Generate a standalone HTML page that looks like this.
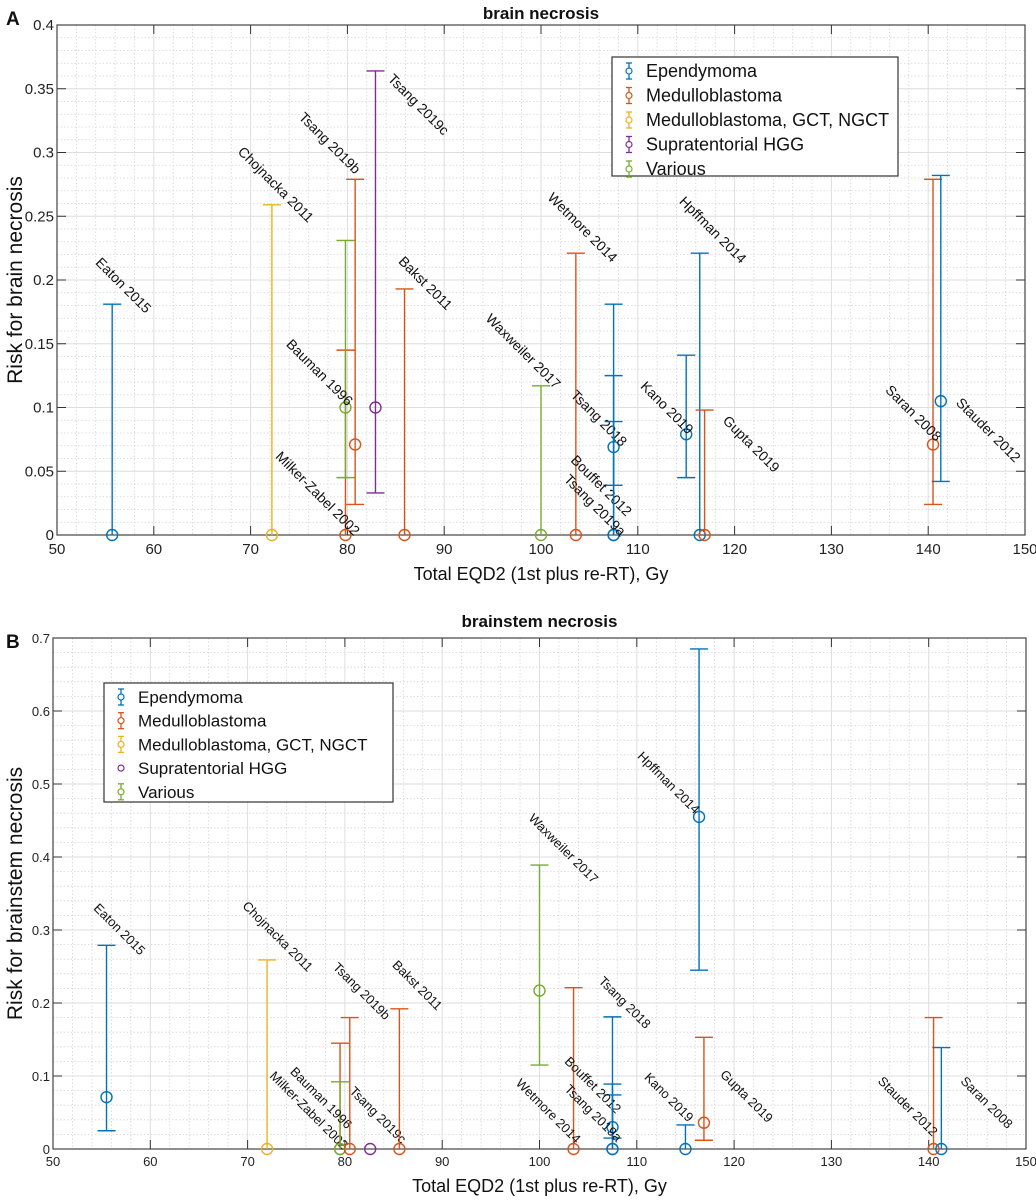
<!DOCTYPE html>
<html><head><meta charset="utf-8"><style>
html,body{margin:0;padding:0;background:#fff;}
svg{display:block;font-family:"Liberation Sans",sans-serif;}
</style></head><body>
<svg id="fig" width="1036" height="1200" viewBox="0 0 1036 1200"></svg>
<script>
const groups = ["Ependymoma","Medulloblastoma","Medulloblastoma, GCT, NGCT","Supratentorial HGG","Various"];
const groupColors = ["#0072BD","#D95319","#EDB120","#7E2F8E","#77AC30"];
const xTicks = [50,60,70,80,90,100,110,120,130,140,150];
const aYTicks = [0,0.05,0.1,0.15,0.2,0.25,0.3,0.35,0.4];
const aYTickLabels = ["0","0.05","0.1","0.15","0.2","0.25","0.3","0.35","0.4"];
const bYTicks = [0,0.1,0.2,0.3,0.4,0.5,0.6,0.7];
const bYTickLabels = ["0","0.1","0.2","0.3","0.4","0.5","0.6","0.7"];

// Panel A: brain necrosis
const aNames = ["Eaton 2015","Chojnacka 2011","Milker-Zabel 2002","Bauman 1996","Tsang 2019b","Tsang 2019c","Bakst 2011","Waxweiler 2017","Wetmore 2014","Tsang 2018","Bouffet 2012","Tsang 2019a","Kano 2019","Hpffman 2014","Gupta 2019","Saran 2008","Stauder 2012"];
const aGroup = [0,2,1,4,1,3,1,4,1,0,0,0,0,0,1,1,0];
const aX = [55.7,72.2,79.8,79.8,80.8,82.9,85.9,100,103.6,107.5,107.5,107.5,115,116.4,116.9,140.5,141.3];
const aY = [0,0,0,0.1,0.071,0.1,0,0,0,0.069,0,0,0.079,0,0,0.071,0.105];
const aLo = [0,0,0,0.045,0.024,0.033,0,0,0,0.039,0,0,0.045,0,0,0.024,0.042];
const aHi = [0.181,0.259,0.145,0.231,0.279,0.364,0.193,0.117,0.221,0.125,0.181,0.089,0.141,0.221,0.098,0.279,0.282];
const aLabelX = [53.9,68.6,72.5,73.6,74.9,84.1,85.2,94.2,100.6,103.0,103.0,102.3,110.2,114.2,118.7,135.5,142.8];
const aLabelY = [0.213,0.300,0.061,0.149,0.327,0.357,0.214,0.169,0.264,0.109,0.058,0.043,0.116,0.261,0.089,0.113,0.103];

// Panel B: brainstem necrosis
const bNames = ["Eaton 2015","Chojnacka 2011","Milker-Zabel 2002","Bauman 1996","Tsang 2019b","Tsang 2019c","Bakst 2011","Waxweiler 2017","Wetmore 2014","Tsang 2018","Bouffet 2012","Tsang 2019a","Kano 2019","Hpffman 2014","Gupta 2019","Stauder 2012","Saran 2008"];
const bGroup = [0,2,1,4,1,3,1,4,1,0,0,0,0,0,1,1,0];
const bX = [55.5,72,79.5,79.5,80.5,82.6,85.6,100,103.5,107.5,107.5,107.5,115,116.4,116.9,140.5,141.3];
const bY = [0.071,0,0,0,0,0,0,0.217,0,0,0.03,0,0,0.455,0.036,0,0];
const bLo = [0.025,0,0,0,0,0,0,0.115,0,0,0.015,0,0,0.245,0.012,0,0];
const bHi = [0.279,0.259,0.145,0.092,0.18,0,0.192,0.389,0.221,0.181,0.074,0.089,0.033,0.685,0.153,0.18,0.139];
const bLabelX = [54.1,69.4,72.2,74.3,78.7,80.4,84.8,98.8,97.5,106.0,102.5,102.5,110.7,110.0,118.5,134.7,143.2];
const bLabelY = [0.329,0.332,0.099,0.105,0.248,0.078,0.251,0.452,0.089,0.229,0.119,0.081,0.097,0.537,0.101,0.092,0.092];

const NS = "http://www.w3.org/2000/svg";
const svg = document.getElementById("fig");
function mk(tag, attrs, parent){
  const e = document.createElementNS(NS, tag);
  for (const k in attrs) e.setAttribute(k, attrs[k]);
  (parent||svg).appendChild(e);
  return e;
}

function drawPanel(p){
  const g = mk("g", {});
  
  
  const sx = v => p.left + (v - 50) / 100 * (p.right - p.left);
  const sy = v => p.bottom - v / p.ymax * (p.bottom - p.top);
  for (let v = 50; v <= 150; v += 2) {
    if (v % 10 === 0) continue;
    const l = mk("line", {x1:sx(v),x2:sx(v),y1:p.top,y2:p.bottom,stroke:"#d4d4d4","stroke-width":0.8,"stroke-dasharray":"1.5,2"}, g);
    
    
  }
  const nMinor = Math.round(p.ymax / p.yminor);
  for (let i = 1; i < nMinor; i++) {
    const v = i * p.yminor;
    const l = mk("line", {x1:p.left,x2:p.right,y1:sy(v),y2:sy(v),stroke:"#d4d4d4","stroke-width":0.8,"stroke-dasharray":"1.5,2"}, g);
    
    
  }
  xTicks.forEach(v => {
    const l = mk("line", {x1:sx(v),x2:sx(v),y1:p.top,y2:p.bottom,stroke:"#dedede","stroke-width":1}, g);
    
    
    mk("line", {x1:sx(v),x2:sx(v),y1:p.bottom,y2:p.bottom-9,stroke:"#333","stroke-width":1}, g);
    mk("line", {x1:sx(v),x2:sx(v),y1:p.top,y2:p.top+9,stroke:"#333","stroke-width":1}, g);
    const t = mk("text", {x:sx(v),y:p.bottom+p.tickFont+4,"text-anchor":"middle","font-size":p.tickFont,fill:"#222"}, g);
    t.textContent = String(v);
    
    
  });
  p.yTicks.forEach((v, i) => {
    const l = mk("line", {x1:p.left,x2:p.right,y1:sy(v),y2:sy(v),stroke:"#dedede","stroke-width":1}, g);
    
    
    mk("line", {x1:p.left,x2:p.left+9,y1:sy(v),y2:sy(v),stroke:"#333","stroke-width":1}, g);
    mk("line", {x1:p.right,x2:p.right-9,y1:sy(v),y2:sy(v),stroke:"#333","stroke-width":1}, g);
    const t = mk("text", {x:p.left-3,y:sy(v)+5,"text-anchor":"end","font-size":p.tickFont,fill:"#222"}, g);
    t.textContent = p.yTickLabels[i];
    
    
  });
  const box = mk("rect", {x:p.left,y:p.top,width:p.right-p.left,height:p.bottom-p.top,fill:"none",stroke:"#444","stroke-width":1.2}, g);
  
  
  for (let i = 0; i < p.names.length; i++) {
    const c = groupColors[p.group[i]];
    const x = sx(p.x[i]);
    const sg = mk("g", {}, g);
    
    
    if (p.hi[i] > p.lo[i]) {
      mk("line", {x1:x,x2:x,y1:sy(p.lo[i]),y2:sy(p.hi[i]),stroke:c,"stroke-width":1.4}, sg);
      mk("line", {x1:x-9,x2:x+9,y1:sy(p.hi[i]),y2:sy(p.hi[i]),stroke:c,"stroke-width":1.4}, sg);
      if (p.lo[i] > 0) mk("line", {x1:x-9,x2:x+9,y1:sy(p.lo[i]),y2:sy(p.lo[i]),stroke:c,"stroke-width":1.4}, sg);
    }
    mk("circle", {cx:x,cy:sy(p.y[i]),r:5.5,fill:"none",stroke:c,"stroke-width":1.4}, sg);
    const lx = sx(p.labelX[i]), ly = sy(p.labelY[i]);
    const t = mk("text", {x:lx,y:ly,"font-size":p.annFont,fill:"#111",transform:`rotate(45 ${lx} ${ly})`}, g);
    t.textContent = p.names[i];
    
    
  }
  const lg = mk("g", {}, g);
  
  
  mk("rect", {x:p.leg.x,y:p.leg.y,width:p.leg.w,height:p.leg.h,fill:"#fff",stroke:"#333","stroke-width":1.2}, lg);
  groups.forEach((name, k) => {
    const cy = p.leg.y + 14 + k * p.leg.step;
    const ix = p.leg.x + 17;
    const c = groupColors[k];
    const eg = mk("g", {}, lg);
    
    
    if (!(p.id === "b" && k === 3)) {
      mk("line", {x1:ix,x2:ix,y1:cy-8,y2:cy+8,stroke:c,"stroke-width":1.3}, eg);
      mk("line", {x1:ix-3,x2:ix+3,y1:cy-8,y2:cy-8,stroke:c,"stroke-width":1.3}, eg);
      mk("line", {x1:ix-3,x2:ix+3,y1:cy+8,y2:cy+8,stroke:c,"stroke-width":1.3}, eg);
    }
    mk("circle", {cx:ix,cy:cy,r:3,fill:"#fff",stroke:c,"stroke-width":1.2}, eg);
    const t = mk("text", {x:p.leg.x+34,y:cy+6,"font-size":p.legFont,fill:"#111"}, eg);
    t.textContent = name;
  });
  const tt = mk("text", {x:(p.left+p.right)/2,y:p.titleY,"text-anchor":"middle","font-size":17,"font-weight":"bold",fill:"#111"}, g);
  tt.textContent = p.title;
  
  
  const pl = mk("text", {x:6,y:p.letterY,"font-size":19,"font-weight":"bold",fill:"#111"}, g);
  pl.textContent = p.letter;
  
  
  const xl = mk("text", {x:(p.left+p.right)/2,y:p.xlabelY,"text-anchor":"middle","font-size":18,fill:"#111"}, g);
  xl.textContent = "Total EQD2 (1st plus re-RT), Gy";
  
  
  const yc = (p.top + p.bottom) / 2;
  const yl = mk("text", {x:22,y:yc,"text-anchor":"middle","font-size":21,fill:"#111",transform:`rotate(-90 22 ${yc})`}, g);
  yl.textContent = p.ylabel;
  
  
}

drawPanel({id:"a", letter:"A", letterY:25, title:"brain necrosis", titleY:19, ylabel:"Risk for brain necrosis",
  left:57, right:1025, top:25, bottom:535, ymax:0.4, yminor:0.01, yTicks:aYTicks, yTickLabels:aYTickLabels,
  tickFont:15, annFont:14, legFont:18, xlabelY:580,
  leg:{x:612,y:57,w:286,h:119,step:24.5},
  names:aNames, group:aGroup, x:aX, y:aY, lo:aLo, hi:aHi, labelX:aLabelX, labelY:aLabelY});

drawPanel({id:"b", letter:"B", letterY:648, title:"brainstem necrosis", titleY:627, ylabel:"Risk for brainstem necrosis",
  left:53, right:1026, top:638, bottom:1149, ymax:0.7, yminor:0.02, yTicks:bYTicks, yTickLabels:bYTickLabels,
  tickFont:13, annFont:13, legFont:17, xlabelY:1192,
  leg:{x:104,y:683,w:289,h:119,step:23.7},
  names:bNames, group:bGroup, x:bX, y:bY, lo:bLo, hi:bHi, labelX:bLabelX, labelY:bLabelY});
</script>
</body></html>
